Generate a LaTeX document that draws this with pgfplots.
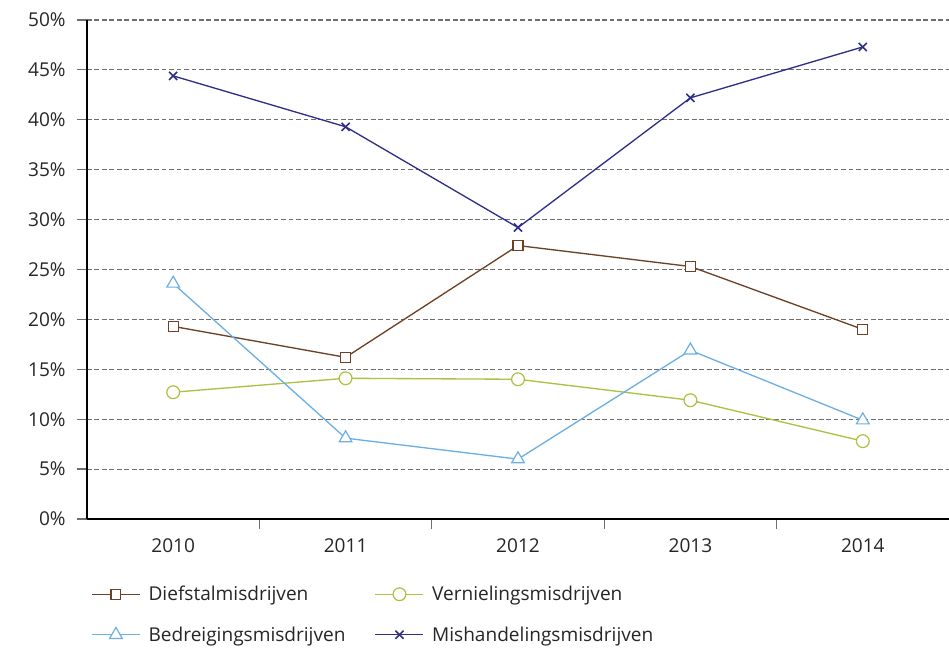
\documentclass[border=0pt]{standalone}
\usepackage{pgfplots}
\pgfplotsset{compat=1.18}
\usepackage{fontspec}
\setmainfont{Open Sans}
\definecolor{cDief}{HTML}{6B4226}
\definecolor{cVern}{HTML}{A9C23F}
\definecolor{cBedr}{HTML}{6CB0E3}
\definecolor{cMish}{HTML}{2F2F88}
\definecolor{cGrid}{HTML}{6E6E6E}
\begin{document}
\begin{tikzpicture}[x=1pt,y=1pt]
  % picture frame in pixel terms (1px = 0.75pt), axis box starts at origin
  \useasboundingbox (-87*0.75,-129*0.75) rectangle (862*0.75,519*0.75);
  \begin{axis}[
      at={(0,0)}, anchor=south west,
      scale only axis,
      width=862*0.75pt, height=499*0.75pt,
      xmin=-0.5, xmax=4.5,
      ymin=0, ymax=50,
      axis x line*=bottom, axis y line*=left,
      axis line style={black, line width=0.9pt, -},
      % separators between the years
      xtick={0.5,1.5,2.5,3.5},
      xticklabels={},
      x tick style={cGrid, line width=0.9pt},
      extra x ticks={0,1,2,3,4},
      extra x tick labels={2010,2011,2012,2013,2014},
      extra x tick style={major tick length=0pt, grid=none},
      ytick={0,5,...,50},
      yticklabels={0\%,5\%,10\%,15\%,20\%,25\%,30\%,35\%,40\%,45\%,50\%},
      y tick style={cGrid, line width=0.9pt},
      tick align=outside,
      major tick length=7.5pt,
      ymajorgrids,
      grid style={cGrid, line width=0.8pt, dash pattern=on 3.6pt off 2pt},
      tick label style={font=\fontsize{14.3}{16}\selectfont, text=black!85},
      yticklabel style={xshift=-5pt},
      xticklabel style={yshift=-11pt},
      every axis plot/.append style={line width=1pt},
      legend columns=2,
      legend cell align=left,
      legend style={draw=none, fill=none,
        at={(0,-95.5*0.75pt)}, anchor=west,
        font=\fontsize{14.3}{16}\selectfont, text=black!85,
        row sep=14pt,
        /tikz/every even column/.append style={column sep=20pt},
        /tikz/every odd column/.append style={column sep=4pt}},
      legend image code/.code={
        \draw[mark repeat=2,mark phase=2] plot coordinates {(0pt,0pt)(18pt,0pt)(36pt,0pt)};},
    ]
    % Diefstalmisdrijven
    \addplot[cDief, mark=square*, mark size=3.7pt, mark options={fill=white, line width=0.9pt}]
      coordinates {(0,19.3) (1,16.2) (2,27.4) (3,25.3) (4,19.0)};
    % Vernielingsmisdrijven
    \addplot[cVern, mark=*, mark size=4.8pt, mark options={fill=white, line width=0.9pt}]
      coordinates {(0,12.7) (1,14.1) (2,14.0) (3,11.9) (4,7.8)};
    % Bedreigingsmisdrijven
    \addplot[cBedr, mark=triangle*, mark size=5.5pt, mark options={fill=white, line width=0.9pt}]
      coordinates {(0,23.6) (1,8.1) (2,6.0) (3,16.9) (4,9.9)};
    % Mishandelingsmisdrijven
    \addplot[cMish, mark=x, mark size=4.3pt, mark options={line width=1.2pt}]
      coordinates {(0,44.4) (1,39.3) (2,29.2) (3,42.2) (4,47.3)};
    \legend{Diefstalmisdrijven, Vernielingsmisdrijven, Bedreigingsmisdrijven, Mishandelingsmisdrijven}
  \end{axis}
\end{tikzpicture}
\end{document}
